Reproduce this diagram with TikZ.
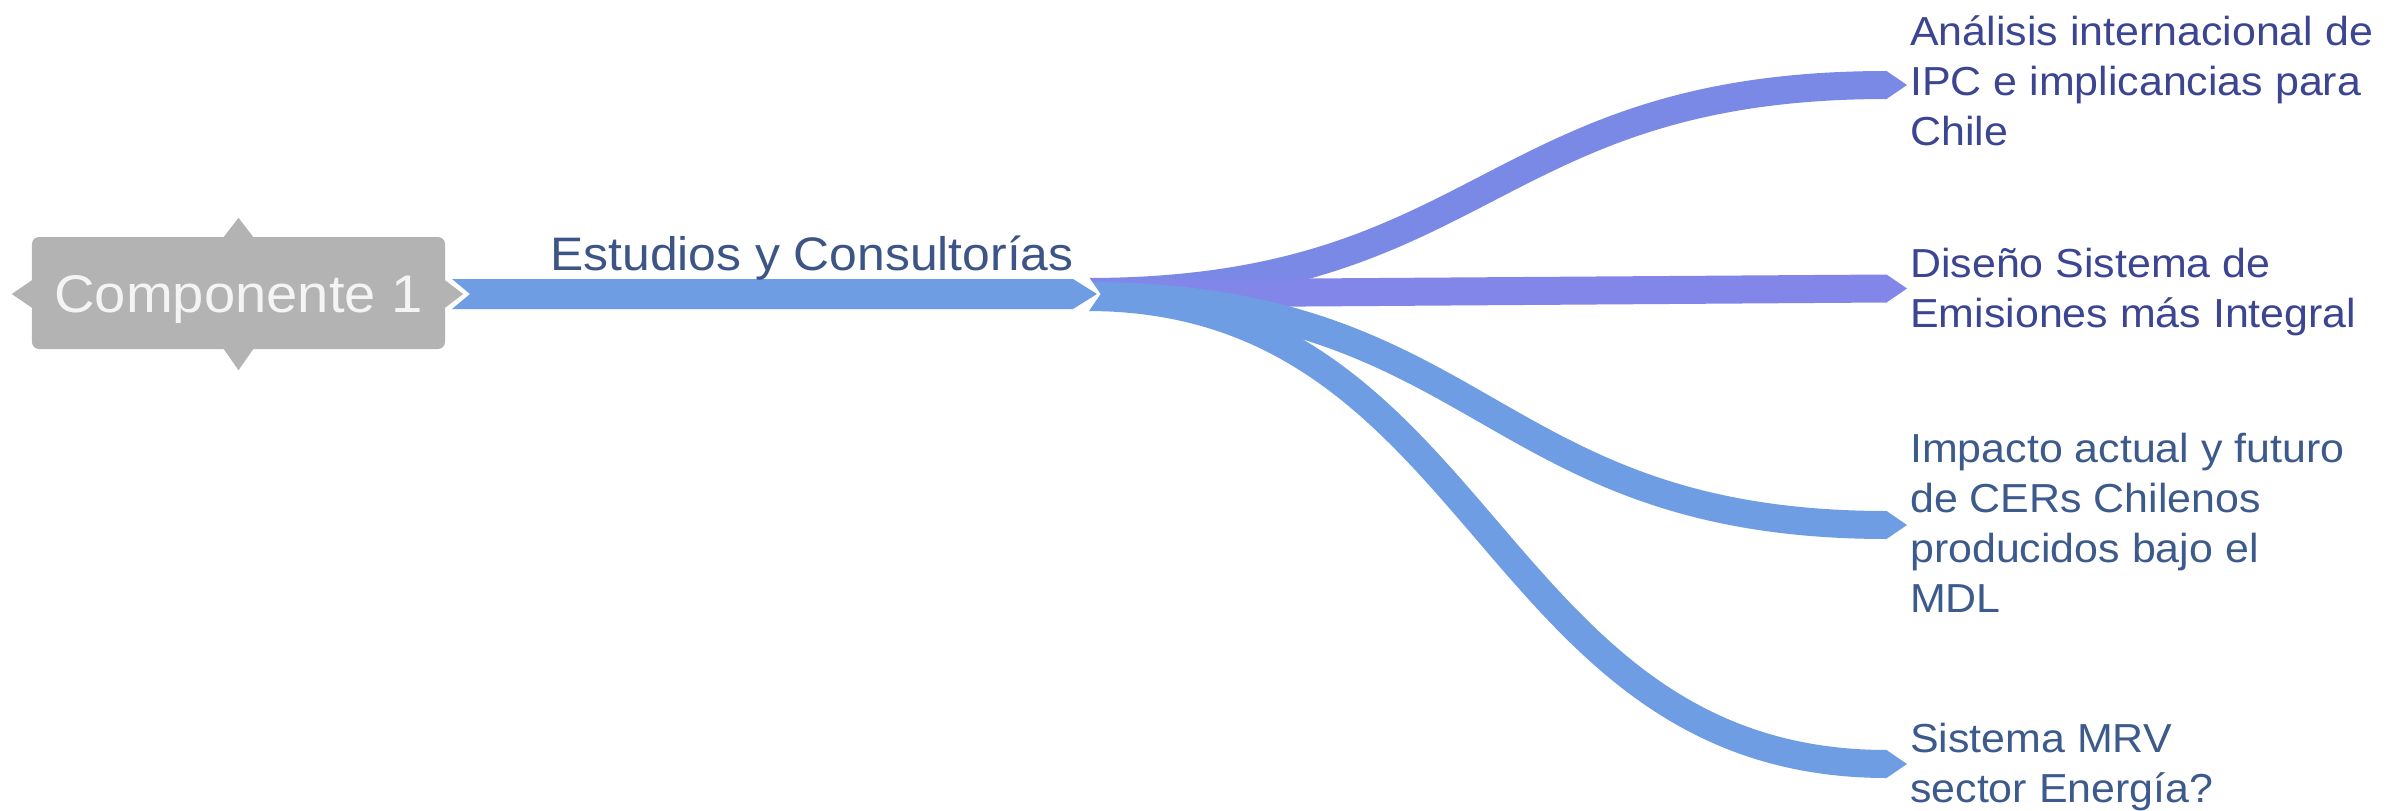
\documentclass[tikz,border=0pt]{standalone}
\usepackage{fontspec}
\setmainfont[FakeStretch=1.06]{Liberation Sans}
\usetikzlibrary{calc}
\definecolor{barblue}{HTML}{6F9DE3}
\definecolor{purpA}{HTML}{7B89E6}
\definecolor{purpB}{HTML}{8386E9}
\definecolor{boxgrey}{HTML}{B3B3B3}
\definecolor{boxtxt}{HTML}{F4F4F4}
\definecolor{txtA}{HTML}{3B4592}
\definecolor{txtB}{HTML}{3D5A8C}
\definecolor{lbltxt}{HTML}{3D5586}
\begin{document}
\begin{tikzpicture}[x=1bp,y=-1bp,
  branch/.style={line width=28bp},
  leaf/.style={anchor=north west, inner sep=0pt, align=left, font=\fontsize{40.5bp}{50bp}\selectfont},
]
\useasboundingbox (0,0) rectangle (2387,810);
\fill[white] (0,0) rectangle (2387,810);

% branch coordinates
\coordinate (b1s) at (1087,292);
\coordinate (b2s) at (1087,294);
\coordinate (b3s) at (1087,296);
\coordinate (b4s) at (1087,297);
\coordinate (b1e) at (1887,85);
\coordinate (b2e) at (1887,288.5);
\coordinate (b3e) at (1887,525);
\coordinate (b4e) at (1887,764);

% branches
\draw[branch, purpA] (b1s) .. controls +(400,0) and +(-400,0) .. (b1e);
\draw[branch, purpB] (b2s) -- (b2e);
\draw[branch, barblue] (b3s) .. controls +(400,0) and +(-400,0) .. (b3e);
\draw[branch, barblue] (b4s) .. controls +(400,0) and +(-400,0) .. (b4e);

% branch tips
\fill[purpA] ($(b1e)+(-0.5,-14)$) -- ($(b1e)+(20,0)$) -- ($(b1e)+(-0.5,14)$) -- cycle;
\fill[purpB] ($(b2e)+(-0.5,-14)$) -- ($(b2e)+(20,0)$) -- ($(b2e)+(-0.5,14)$) -- cycle;
\fill[barblue] ($(b3e)+(-0.5,-14)$) -- ($(b3e)+(20,0)$) -- ($(b3e)+(-0.5,14)$) -- cycle;
\fill[barblue] ($(b4e)+(-0.5,-14)$) -- ($(b4e)+(20,0)$) -- ($(b4e)+(-0.5,14)$) -- cycle;

% notch at the start of the branches
\fill[white] (1080,270) -- (1084,270) -- (1100.5,294) -- (1084,318) -- (1080,318) -- cycle;

% main bar
\fill[barblue] (452,279) -- (1073,279) -- (1097,294) -- (1073,309) -- (452,309) -- (470,294) -- cycle;

% central topic
\node[rectangle, rounded corners=7bp, fill=boxgrey, minimum width=413bp, minimum height=112bp,
      inner sep=0pt, text=boxtxt, font=\fontsize{53bp}{60bp}\selectfont,
      text height=48bp, text depth=10bp] (c1) at (238.5,293) {Componente 1};
\fill[boxgrey] ($(c1.north)+(-15,0.5)$) -- ($(c1.north)+(0,-19)$) -- ($(c1.north)+(15,0.5)$) -- cycle;
\fill[boxgrey] ($(c1.south)+(-15,-0.5)$) -- ($(c1.south)+(0,21)$) -- ($(c1.south)+(15,-0.5)$) -- cycle;
\fill[boxgrey] ($(c1.west)+(0.5,-13)$) -- ($(c1.west)+(-20,1)$) -- ($(c1.west)+(0.5,15)$) -- cycle;
\fill[boxgrey] ($(c1.east)+(-0.5,-13)$) -- ($(c1.east)+(18,1)$) -- ($(c1.east)+(-0.5,15)$) -- cycle;

% labels
\node[anchor=base, inner sep=0pt, text=lbltxt, font=\fontsize{47bp}{52bp}\selectfont] (lbl) at (812,270) {Estudios y Consultorías};

\node[leaf, text=txtA] (t1) at (1910,5) {\rule{0pt}{40bp}Análisis internacional de\\IPC e implicancias para\\Chile};
\node[leaf, text=txtA] (t2) at (1910,237) {\rule{0pt}{40bp}Diseño Sistema de\\Emisiones más Integral};
\node[leaf, text=txtB] (t3) at (1910,422) {\rule{0pt}{40bp}Impacto actual y futuro\\de CERs Chilenos\\producidos bajo el\\MDL};
\node[leaf, text=txtB] (t4) at (1910,712) {\rule{0pt}{40bp}Sistema MRV\\sector Energía?};
\end{tikzpicture}
\end{document}
